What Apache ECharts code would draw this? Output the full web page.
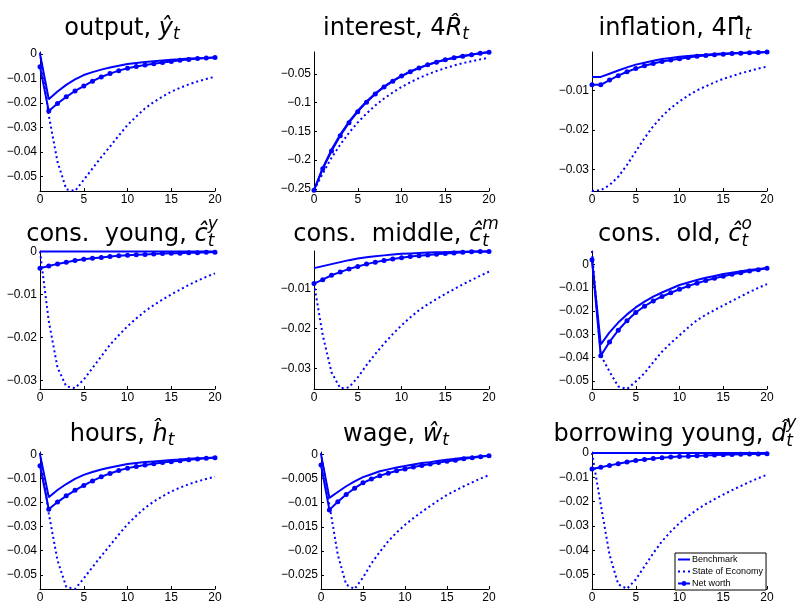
<!DOCTYPE html>
<html>
<head>
<meta charset="utf-8">
<script src="https://cdn.jsdelivr.net/npm/echarts@6/dist/echarts.min.js"></script>
<style>
  html, body { margin: 0; padding: 0; background: #fff; }
  #main { width: 799px; height: 604px; }
</style>
</head>
<body>
<div id="main"></div>
<script>
// horizon (quarters)
const periods = [0,1,2,3,4,5,6,7,8,9,10,11,12,13,14,15,16,17,18,19,20];
const xTicks = [0, 5, 10, 15, 20];

// output
const outputBench = [0,-0.0185,-0.0153,-0.0126,-0.0104,-0.0086,-0.0074,-0.0064,-0.0055,-0.0048,-0.0041,-0.0037,-0.0033,-0.0030,-0.0027,-0.0024,-0.0022,-0.0019,-0.0017,-0.0016,-0.0014];
const outputState = [0.0006,-0.0250,-0.0440,-0.0552,-0.0559,-0.0514,-0.0467,-0.0421,-0.0378,-0.0333,-0.0290,-0.0255,-0.0222,-0.0196,-0.0174,-0.0154,-0.0138,-0.0124,-0.0112,-0.0102,-0.0093];
const outputNet = [-0.0052,-0.0233,-0.0202,-0.0175,-0.0151,-0.0131,-0.0111,-0.0094,-0.0080,-0.0068,-0.0058,-0.0051,-0.0045,-0.0040,-0.0035,-0.0031,-0.0026,-0.0023,-0.0019,-0.0016,-0.0014];
const outputTicks = [0,-0.01,-0.02,-0.03,-0.04,-0.05];

// interest
const interestBench = [-0.2520,-0.2135,-0.1820,-0.1555,-0.1332,-0.1142,-0.0980,-0.0842,-0.0723,-0.0622,-0.0535,-0.0461,-0.0397,-0.0342,-0.0295,-0.0255,-0.0221,-0.0191,-0.0165,-0.0143,-0.0123];
const interestState = [-0.2520,-0.2230,-0.1960,-0.1730,-0.1525,-0.1345,-0.1190,-0.1050,-0.0930,-0.0825,-0.0730,-0.0648,-0.0575,-0.0510,-0.0452,-0.0402,-0.0357,-0.0317,-0.0282,-0.0250,-0.0222];
const interestNet = [-0.2520,-0.2150,-0.1840,-0.1575,-0.1350,-0.1158,-0.0993,-0.0852,-0.0731,-0.0628,-0.0540,-0.0465,-0.0400,-0.0345,-0.0298,-0.0258,-0.0223,-0.0194,-0.0168,-0.0145,-0.0125];
const interestTicks = [-0.05,-0.1,-0.15,-0.2,-0.25];

// inflation
const inflationBench = [-0.0066,-0.0066,-0.0058,-0.0050,-0.0042,-0.0035,-0.0030,-0.0025,-0.0021,-0.0018,-0.0015,-0.0013,-0.0011,-0.0010,-0.0008,-0.0007,-0.0006,-0.0005,-0.0004,-0.0004,-0.0003];
const inflationState = [-0.0355,-0.0353,-0.0340,-0.0319,-0.0289,-0.0255,-0.0221,-0.0191,-0.0166,-0.0145,-0.0128,-0.0113,-0.0100,-0.0090,-0.0080,-0.0071,-0.0064,-0.0057,-0.0051,-0.0045,-0.0040];
const inflationNet = [-0.0086,-0.0086,-0.0074,-0.0063,-0.0053,-0.0045,-0.0038,-0.0032,-0.0027,-0.0023,-0.0020,-0.0017,-0.0014,-0.0012,-0.0010,-0.0009,-0.0007,-0.0006,-0.0005,-0.0004,-0.0003];
const inflationTicks = [-0.01,-0.02,-0.03];

// consumption young
const youngBench = [0,0,0,0,0,0,0,0,0,0,0,0,0,0,0,0,0,0,0,0,0];
const youngState = [0,-0.0162,-0.0270,-0.0314,-0.0318,-0.0298,-0.0271,-0.0244,-0.0217,-0.0195,-0.0174,-0.0156,-0.0139,-0.0125,-0.0112,-0.0100,-0.0089,-0.0078,-0.0068,-0.0059,-0.0051];
const youngNet = [-0.0039,-0.0034,-0.0029,-0.0025,-0.0021,-0.0018,-0.0016,-0.0014,-0.0012,-0.0010,-0.0009,-0.0008,-0.0007,-0.0006,-0.0005,-0.0004,-0.0004,-0.0003,-0.0003,-0.0002,-0.0002];
const youngTicks = [0,-0.01,-0.02,-0.03];

// consumption middle
const middleBench = [-0.0048,-0.0043,-0.0038,-0.0033,-0.0028,-0.0024,-0.0021,-0.0018,-0.0016,-0.0014,-0.0012,-0.0011,-0.0010,-0.0009,-0.0008,-0.0008,-0.0007,-0.0007,-0.0006,-0.0006,-0.0006];
const middleState = [-0.0087,-0.0217,-0.0310,-0.0350,-0.0348,-0.0323,-0.0292,-0.0264,-0.0238,-0.0214,-0.0192,-0.0172,-0.0154,-0.0139,-0.0126,-0.0113,-0.0101,-0.0089,-0.0078,-0.0067,-0.0057];
const middleNet = [-0.0087,-0.0077,-0.0066,-0.0058,-0.0050,-0.0044,-0.0038,-0.0033,-0.0029,-0.0025,-0.0022,-0.0019,-0.0017,-0.0015,-0.0013,-0.0011,-0.0010,-0.0008,-0.0007,-0.0006,-0.0006];
const middleTicks = [-0.01,-0.02,-0.03];

// consumption old
const oldBench = [0.0020,-0.0344,-0.0292,-0.0250,-0.0215,-0.0185,-0.0160,-0.0139,-0.0121,-0.0105,-0.0089,-0.0078,-0.0067,-0.0058,-0.0050,-0.0042,-0.0036,-0.0030,-0.0025,-0.0020,-0.0016];
const oldState = [0.0057,-0.0390,-0.0460,-0.0524,-0.0535,-0.0503,-0.0467,-0.0420,-0.0375,-0.0338,-0.0305,-0.0271,-0.0240,-0.0217,-0.0196,-0.0177,-0.0157,-0.0138,-0.0119,-0.0101,-0.0085];
const oldNet = [0.0020,-0.0392,-0.0333,-0.0283,-0.0242,-0.0207,-0.0180,-0.0157,-0.0138,-0.0122,-0.0107,-0.0093,-0.0081,-0.0070,-0.0060,-0.0051,-0.0043,-0.0036,-0.0029,-0.0023,-0.0017];
const oldTicks = [0,-0.01,-0.02,-0.03,-0.04,-0.05];

// hours
const hoursBench = [0,-0.0178,-0.0148,-0.0123,-0.0102,-0.0085,-0.0073,-0.0063,-0.0054,-0.0047,-0.0040,-0.0036,-0.0032,-0.0029,-0.0026,-0.0023,-0.0021,-0.0018,-0.0016,-0.0015,-0.0013];
const hoursState = [0.0006,-0.0245,-0.0440,-0.0550,-0.0559,-0.0515,-0.0468,-0.0422,-0.0378,-0.0333,-0.0290,-0.0255,-0.0222,-0.0196,-0.0174,-0.0154,-0.0138,-0.0124,-0.0112,-0.0102,-0.0093];
const hoursNet = [-0.0047,-0.0228,-0.0198,-0.0172,-0.0149,-0.0129,-0.0110,-0.0093,-0.0079,-0.0067,-0.0057,-0.0050,-0.0044,-0.0039,-0.0034,-0.0030,-0.0026,-0.0022,-0.0019,-0.0016,-0.0014];
const hoursTicks = [0,-0.01,-0.02,-0.03,-0.04,-0.05];

// wage
const wageBench = [0,-0.0090,-0.0078,-0.0066,-0.0056,-0.0047,-0.0041,-0.0035,-0.0031,-0.0027,-0.0024,-0.0021,-0.0018,-0.0016,-0.0013,-0.0011,-0.0009,-0.0007,-0.0006,-0.0004,-0.0003];
const wageState = [0.0003,-0.0105,-0.0208,-0.0270,-0.0279,-0.0255,-0.0226,-0.0202,-0.0180,-0.0162,-0.0146,-0.0132,-0.0119,-0.0107,-0.0095,-0.0084,-0.0075,-0.0066,-0.0058,-0.0050,-0.0043];
const wageNet = [-0.0022,-0.0115,-0.0098,-0.0083,-0.0070,-0.0059,-0.0051,-0.0044,-0.0039,-0.0034,-0.0030,-0.0026,-0.0023,-0.0020,-0.0017,-0.0014,-0.0012,-0.0009,-0.0007,-0.0005,-0.0003];
const wageTicks = [0,-0.005,-0.01,-0.015,-0.02,-0.025];

// borrowing young
const debtBench = [0,0,0,0,0,0,0,0,0,0,0,0,0,0,0,0,0,0,0,0,0];
const debtState = [0,-0.0212,-0.0418,-0.0540,-0.0558,-0.0520,-0.0466,-0.0412,-0.0363,-0.0323,-0.0288,-0.0259,-0.0233,-0.0210,-0.0190,-0.0171,-0.0153,-0.0136,-0.0119,-0.0104,-0.0089];
const debtNet = [-0.0066,-0.0059,-0.0051,-0.0044,-0.0037,-0.0031,-0.0027,-0.0023,-0.0020,-0.0017,-0.0014,-0.0013,-0.0011,-0.0010,-0.0008,-0.0007,-0.0006,-0.0005,-0.0004,-0.0004,-0.0003];
const debtTicks = [0,-0.01,-0.02,-0.03,-0.04,-0.05];

const names = ['Benchmark', 'State of Economy', 'Net worth'];
const BLUE = '#0000ff';

// panel layout (pixels), axis ranges, and title pieces
const cols = [{ left: 40, width: 175, cx: 122 }, { left: 314, width: 175, cx: 396 }, { left: 592, width: 175, cx: 675 }];
const rows = [{ top: 52, height: 139, base: 36 }, { top: 251, height: 138, base: 242 }, { top: 452, height: 137, base: 442 }];

const panels = [
  { bench: outputBench, state: outputState, net: outputNet, ticks: outputTicks, min: -0.0559, max: 0.0008,
    title: [{ t: 'output, ' }, { t: '\u0177', it: 1 }, { t: 't', it: 1, s: 17, dy: 4 }] },
  { bench: interestBench, state: interestState, net: interestNet, ticks: interestTicks, min: -0.2535, max: -0.0122,
    title: [{ t: 'interest, 4' }, { t: 'R\u0302', it: 1 }, { t: 't', it: 1, s: 17, dy: 4 }] },
  { bench: inflationBench, state: inflationState, net: inflationNet, ticks: inflationTicks, min: -0.0355, max: -0.0003,
    title: [{ t: 'inflation, 4' }, { t: '\u03A0\u0302' }, { t: 't', it: 1, s: 17, dy: 4 }] },
  { bench: youngBench, state: youngState, net: youngNet, ticks: youngTicks, min: -0.032, max: 0.0001,
    title: [{ t: 'cons.  young, ' }, { t: '\u0109', it: 1 }, { t: 't', it: 1, s: 17, dy: 5, keep: 1 }, { t: 'y', it: 1, s: 17, dy: -12 }] },
  { bench: middleBench, state: middleState, net: middleNet, ticks: middleTicks, min: -0.0352, max: -0.0005,
    title: [{ t: 'cons.  middle, ' }, { t: '\u0109', it: 1 }, { t: 't', it: 1, s: 17, dy: 5, keep: 1 }, { t: 'm', it: 1, s: 17, dy: -12 }] },
  { bench: oldBench, state: oldState, net: oldNet, ticks: oldTicks, min: -0.0535, max: 0.0057,
    title: [{ t: 'cons.  old, ' }, { t: '\u0109', it: 1 }, { t: 't', it: 1, s: 17, dy: 5, keep: 1 }, { t: 'o', it: 1, s: 17, dy: -12 }] },
  { bench: hoursBench, state: hoursState, net: hoursNet, ticks: hoursTicks, min: -0.0559, max: 0.001,
    title: [{ t: 'hours, ' }, { t: '\u0125', it: 1 }, { t: 't', it: 1, s: 17, dy: 4 }] },
  { bench: wageBench, state: wageState, net: wageNet, ticks: wageTicks, min: -0.0279, max: 0.0005, left: 321, width: 168,
    title: [{ t: 'wage, ' }, { t: '\u0175', it: 1 }, { t: 't', it: 1, s: 17, dy: 4 }] },
  { bench: debtBench, state: debtState, net: debtNet, ticks: debtTicks, min: -0.0559, max: 0.0004,
    title: [{ t: 'borrowing young, ' }, { t: 'd\u0302', it: 1 }, { t: 't', it: 1, s: 17, dy: 5, keep: 1 }, { t: 'y', it: 1, s: 17, dy: -13 }] }
];

// title text made of pieces (sub/superscripts), measured with a canvas
const ctx = document.createElement('canvas').getContext('2d');
const TSIZE = 24;
function fontOf(p) { return (p.it ? 'italic ' : '') + (p.s || TSIZE) + 'px "DejaVu Sans"'; }
function widthOf(p) { ctx.font = fontOf(p); return ctx.measureText(p.t).width; }
function mathTitle(cx, base, parts) {
  let total = 0, held = 0;
  parts.forEach(p => { const w = widthOf(p); if (p.keep) held = w; else { total += Math.max(w, held); held = 0; } });
  let x = cx - total / 2; held = 0;
  const els = [];
  parts.forEach(p => {
    const w = widthOf(p), s = p.s || TSIZE;
    els.push({
      type: 'text', x: x, y: base + (p.dy || 0) - 0.3 * s, silent: true,
      style: { text: p.t, font: fontOf(p), fill: '#000', textAlign: 'left', textVerticalAlign: 'middle', verticalAlign: 'middle' }
    });
    if (p.keep) held = w; else { x += Math.max(w, held); held = 0; }
  });
  return els;
}

function fmtTick(v) {
  if (v === 0) return '0';
  return (v < 0 ? '\u2212' : '') + String(+Math.abs(v).toFixed(4));
}
const pairs = vals => periods.map((t, i) => [t, vals[i]]);

const grid = [], xAxis = [], yAxis = [], series = [], graphic = [];
panels.forEach((p, i) => {
  const c = cols[i % 3], r = rows[Math.floor(i / 3)];
  grid.push({ left: p.left || c.left, width: p.width || c.width, top: r.top, height: r.height });
  xAxis.push({
    gridIndex: i, type: 'value', min: 0, max: 20,
    axisLine: { onZero: false, lineStyle: { color: '#000', width: 1 } },
    axisTick: { inside: true, length: 3, customValues: xTicks, lineStyle: { color: '#000' } },
    axisLabel: { customValues: xTicks, color: '#000', fontSize: 12, fontFamily: 'Liberation Sans', margin: 3 },
    splitLine: { show: false }
  });
  yAxis.push({
    gridIndex: i, type: 'value', min: p.min, max: p.max,
    axisLine: { show: true, onZero: false, lineStyle: { color: '#000', width: 1 } },
    axisTick: { show: true, inside: true, length: 3, customValues: p.ticks, lineStyle: { color: '#000' } },
    axisLabel: { customValues: p.ticks, formatter: fmtTick, color: '#000', fontSize: 12, fontFamily: 'Liberation Sans', margin: 3 },
    splitLine: { show: false }
  });
  series.push(
    { name: names[0], type: 'line', xAxisIndex: i, yAxisIndex: i, data: pairs(p.bench), symbol: 'none',
      lineStyle: { color: BLUE, width: 2 }, itemStyle: { color: BLUE } },
    { name: names[1], type: 'line', xAxisIndex: i, yAxisIndex: i, data: pairs(p.state), symbol: 'none',
      lineStyle: { color: BLUE, width: 2, type: [2, 3] }, itemStyle: { color: BLUE } },
    { name: names[2], type: 'line', xAxisIndex: i, yAxisIndex: i, data: pairs(p.net), symbol: 'circle', symbolSize: 5,
      lineStyle: { color: BLUE, width: 2 }, itemStyle: { color: BLUE } }
  );
  mathTitle(c.cx, r.base, p.title).forEach(e => graphic.push(e));
});

// legend entries without a marker hide the symbol part of the icon
const noMark = { color: 'rgba(0,0,0,0)', borderWidth: 0, opacity: 0 };

const chart = echarts.init(document.getElementById('main'));
chart.setOption({
  animation: false,
  backgroundColor: '#fff',
  grid, xAxis, yAxis, series, graphic,
  legend: {
    data: [{ name: names[0], itemStyle: noMark }, { name: names[1], itemStyle: noMark }, { name: names[2] }],
    orient: 'vertical', left: 675, top: 553,
    itemWidth: 12, itemHeight: 6, itemGap: 3, padding: [2, 3, 2, 2],
    backgroundColor: '#fff', borderColor: '#000', borderWidth: 1, borderRadius: 0,
    selectedMode: false,
    textStyle: { fontSize: 9, fontFamily: 'Liberation Sans', color: '#000', padding: [0, 0, 0, -3] }
  }
});
window.onresize = function () { chart.resize(); };
</script>
</body>
</html>
